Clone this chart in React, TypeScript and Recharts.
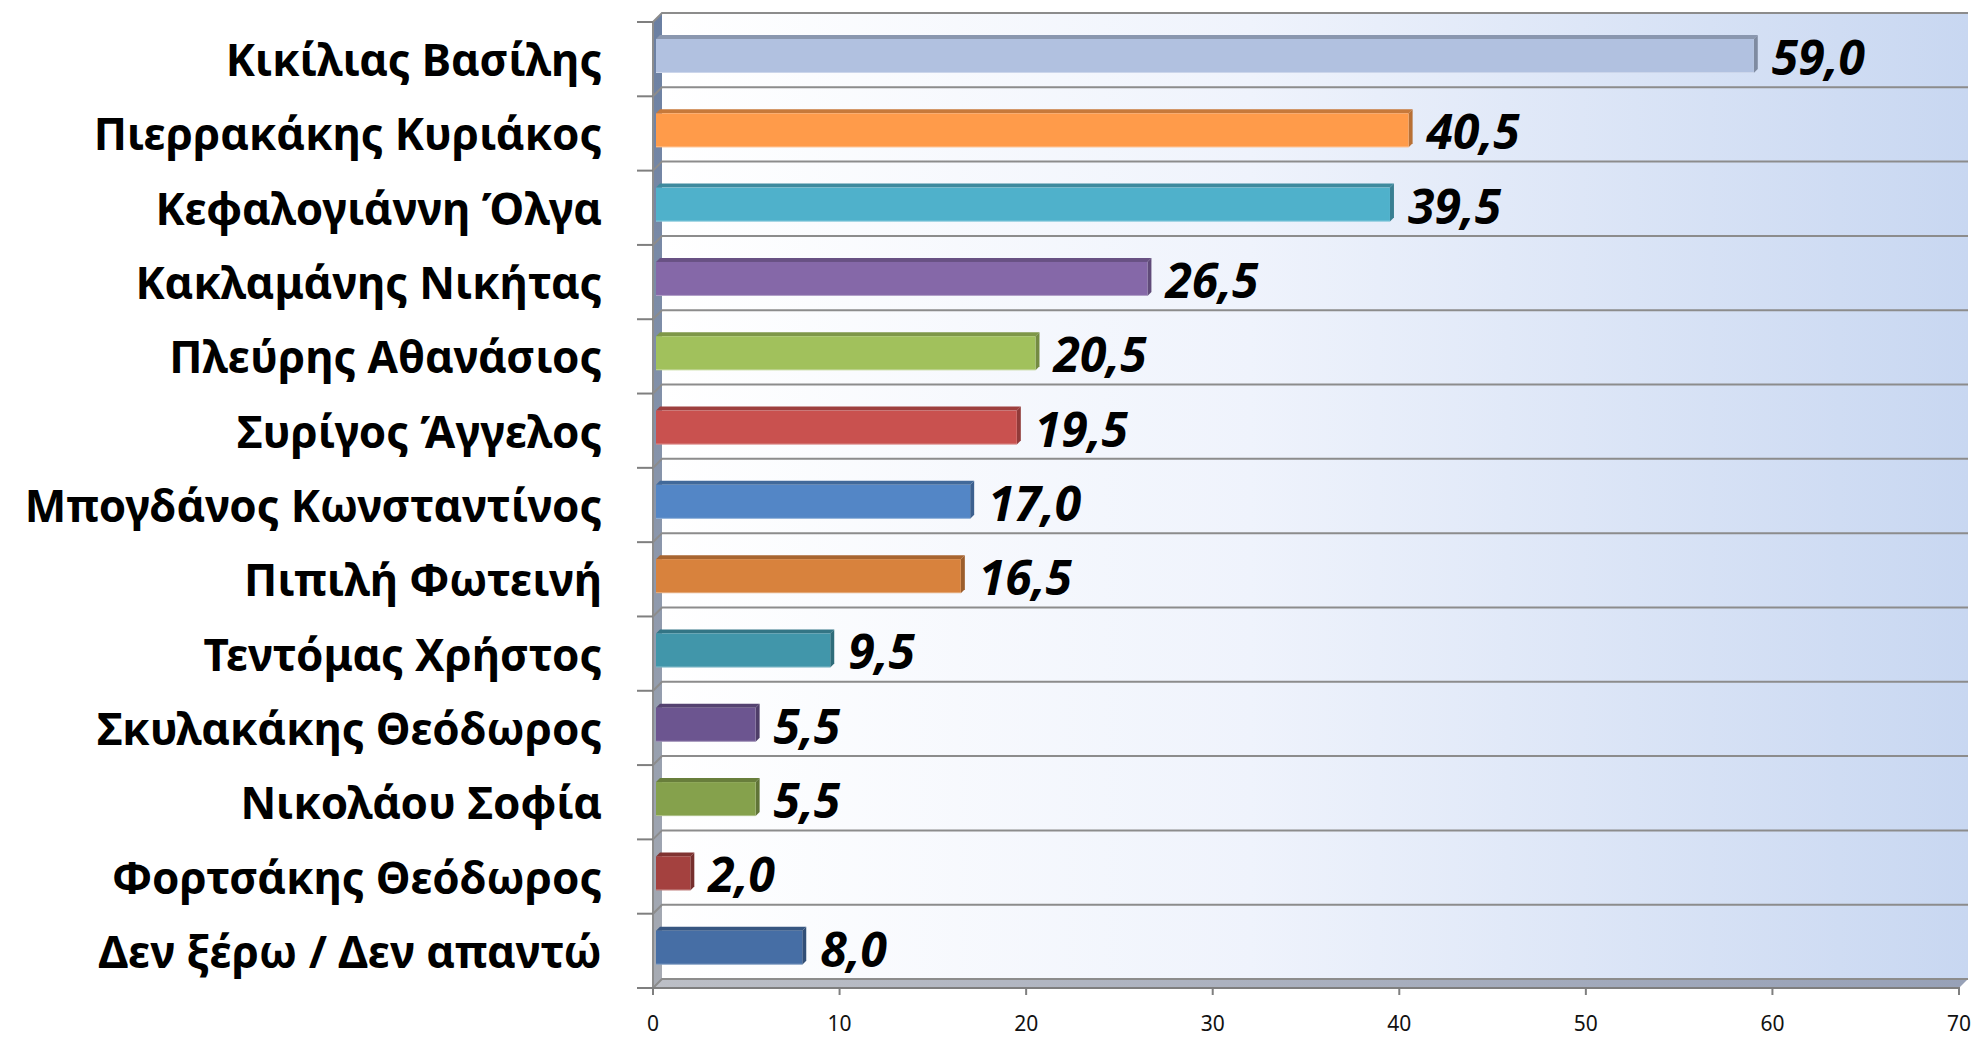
import React from 'react';
import { BarChart, Bar, XAxis, YAxis, Cell, LabelList } from 'recharts';

const categories = [
  'Κικίλιας Βασίλης',
  'Πιερρακάκης Κυριάκος',
  'Κεφαλογιάννη Όλγα',
  'Κακλαμάνης Νικήτας',
  'Πλεύρης Αθανάσιος',
  'Συρίγος Άγγελος',
  'Μπογδάνος Κωνσταντίνος',
  'Πιπιλή Φωτεινή',
  'Τεντόμας Χρήστος',
  'Σκυλακάκης Θεόδωρος',
  'Νικολάου Σοφία',
  'Φορτσάκης Θεόδωρος',
  'Δεν ξέρω / Δεν απαντώ',
];
const values = [59.0, 40.5, 39.5, 26.5, 20.5, 19.5, 17.0, 16.5, 9.5, 5.5, 5.5, 2.0, 8.0];
const barColors = [
  '#b1c1e0', '#ff9b4a', '#4fb1cb', '#8568a8', '#a1c15c', '#c9514f', '#5386c6',
  '#d8823d', '#4196aa', '#6c5590', '#85a14c', '#a4413f', '#466ea5',
];
const xTicks = [0, 10, 20, 30, 40, 50, 60, 70];

const data = categories.map((name, i) => ({ name, value: values[i] }));

// layout
const W = 1975;
const H = 1039;
const PL = 653; // plot left (front)
const PR = 1959; // plot right (front)
const PT = 17;
const PB = 983;
const D = 9; // 3D depth
const FONT = "'Noto Sans', 'DejaVu Sans', sans-serif";

function shade(hex: string, f: number) {
  const n = parseInt(hex.slice(1), 16);
  const r = Math.round(((n >> 16) & 255) * f);
  const g = Math.round(((n >> 8) & 255) * f);
  const b = Math.round((n & 255) * f);
  return `rgb(${r},${g},${b})`;
}

function Bar3D(props: any) {
  const { x, y, width, height, fill } = props;
  if (width == null || height == null) return null;
  const d = 4;
  const x0 = x + 3;
  const x1 = x + width;
  const top = `${x0},${y + d} ${x0 + d},${y} ${x1 + d},${y} ${x1},${y + d}`;
  const side = `${x1},${y + d} ${x1 + d},${y} ${x1 + d},${y + height - d} ${x1},${y + height}`;
  return (
    <g>
      <polygon points={top} fill={shade(fill, 0.78)} />
      <polygon points={side} fill={shade(fill, 0.72)} />
      <rect x={x0} y={y + d} width={Math.max(0, x1 - x0)} height={height - d} fill={fill} />
      <line x1={x0} y1={y + height - 0.5} x2={x1} y2={y + height - 0.5} stroke="#ffffff" strokeOpacity={0.35} strokeWidth={1} />
    </g>
  );
}

function ValueLabel(props: any) {
  const { x, y, width, height, value } = props;
  const txt = Number(value).toFixed(1).replace('.', ',');
  return (
    <text
      x={x + width + 4 + 14}
      y={y + height / 2 + 21}
      fontFamily={FONT}
      fontWeight={700}
      fontStyle="italic"
      fontSize={48}
      fill="#000"
    >
      {txt}
    </text>
  );
}

function YTick(props: any) {
  const { x, y, payload } = props;
  return (
    <text x={x - 51} y={y + 22} textAnchor="end" fontFamily={FONT} fontWeight={700} fontSize={44} fill="#000">
      {payload.value}
    </text>
  );
}

function XTick(props: any) {
  const { x, y, payload } = props;
  return (
    <g>
      <line x1={x} y1={y + 4} x2={x} y2={y + 12} stroke="#7f7f7f" strokeWidth={2} />
      <text x={x} y={y + 48} textAnchor="middle" fontFamily={FONT} fontSize={21} fill="#111">
        {payload.value}
      </text>
    </g>
  );
}

function Backdrop() {
  const n = categories.length;
  const band = (PB - PT) / n;
  const lines = [];
  const ticks = [];
  for (let k = 0; k <= n; k++) {
    const fy = PT + 5 + k * band;
    const by = PT - 4 + k * band;
    lines.push(
      <polyline key={'g' + k} points={`${PL},${fy} ${PL + D},${by} ${PR + D},${by}`} fill="none" stroke="#8c8c8c" strokeWidth={2} />
    );
    ticks.push(<line key={'t' + k} x1={PL - 16} y1={fy} x2={PL} y2={fy} stroke="#7f7f7f" strokeWidth={2} />);
  }
  return (
    <svg width={W} height={H} style={{ position: 'absolute', left: 0, top: 0 }}>
      <defs>
        <linearGradient id="backGrad" x1="0" y1="0" x2="1" y2="0">
          <stop offset="0" stopColor="#ffffff" />
          <stop offset="0.45" stopColor="#eff3fc" />
          <stop offset="1" stopColor="#c8d7f1" />
        </linearGradient>
        <linearGradient id="wallGrad" x1="0" y1="0" x2="0" y2="1">
          <stop offset="0" stopColor="#6a7fa2" />
          <stop offset="1" stopColor="#a7abb3" />
        </linearGradient>
        <linearGradient id="floorGrad" x1="0" y1="0" x2="1" y2="0">
          <stop offset="0" stopColor="#bcbfc6" />
          <stop offset="1" stopColor="#97a1b7" />
        </linearGradient>
      </defs>
      <rect x={PL + D} y={PT - 4} width={PR - PL} height={PB - PT} fill="url(#backGrad)" />
      <polygon points={`${PL},${PT + 5} ${PL + D},${PT - 4} ${PL + D},${PB - 4} ${PL},${PB + 5}`} fill="url(#wallGrad)" />
      <polygon points={`${PL},${PB + 5} ${PL + D},${PB - 4} ${PR + D},${PB - 4} ${PR},${PB + 5}`} fill="url(#floorGrad)" />
      {lines}
      <line x1={PL} y1={PT + 5} x2={PL} y2={PB + 5} stroke="#8c8c8c" strokeWidth={2} />
      <line x1={PL} y1={PB + 5} x2={PR} y2={PB + 5} stroke="#7f7f7f" strokeWidth={2} />
      {ticks}
    </svg>
  );
}

export default function App() {
  return (
    <div style={{ position: 'absolute', left: 0, top: 0, width: W, height: H, background: '#fff' }}>
      <Backdrop />
      <div style={{ position: 'absolute', left: 0, top: 0 }}>
        <BarChart
          width={W}
          height={H}
          data={data}
          layout="vertical"
          margin={{ top: PT, right: W - PR, bottom: 0, left: 0 }}
          barSize={38}
        >
          <XAxis
            type="number"
            domain={[0, 70]}
            ticks={xTicks}
            axisLine={false}
            tickLine={false}
            tickSize={0}
            tickMargin={0}
            height={H - PB}
            tick={<XTick />}
            interval={0}
          />
          <YAxis
            type="category"
            dataKey="name"
            width={PL}
            axisLine={false}
            tickLine={false}
            tickSize={0}
            tickMargin={0}
            tick={<YTick />}
            interval={0}
          />
          <Bar dataKey="value" isAnimationActive={false} shape={<Bar3D />}>
            {data.map((_, i) => (
              <Cell key={i} fill={barColors[i]} />
            ))}
            <LabelList dataKey="value" content={<ValueLabel />} />
          </Bar>
        </BarChart>
      </div>
    </div>
  );
}
